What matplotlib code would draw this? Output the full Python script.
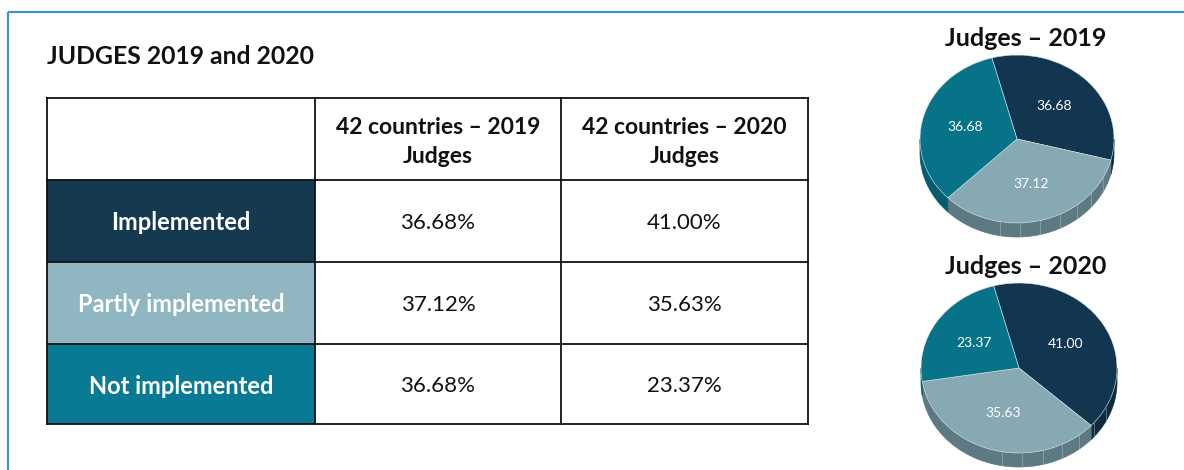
import matplotlib.pyplot as plt
import numpy as np
from matplotlib.patches import Rectangle, Polygon

# ---------------------------------------------------------------------------
# Data
# ---------------------------------------------------------------------------
title = "JUDGES 2019 and 2020"
categories = ["Implemented", "Partly implemented", "Not implemented"]
col_headers = ["42 countries \u2013 2019\nJudges", "42 countries \u2013 2020\nJudges"]
values_2019 = [36.68, 37.12, 36.68]
values_2020 = [41.00, 35.63, 23.37]
pie_titles = ["Judges \u2013 2019", "Judges \u2013 2020"]

# ---------------------------------------------------------------------------
# Style
# ---------------------------------------------------------------------------
plt.rcParams["font.family"] = ["Lato", "DejaVu Sans"]
cat_colors = ["#15394f", "#8fb6c1", "#087a93"]
pie_colors = ["#12364f", "#87a9b4", "#077389"]
side_colors = ["#0c2b3e", "#5d7982", "#055c6e"]
frame_blue = "#3d93cc"

W, H = 1184, 470
fig = plt.figure(figsize=(W / 100, H / 100), dpi=100)


def px_axes(x0, y0, x1, y1):
    return fig.add_axes([x0 / W, 1 - y1 / H, (x1 - x0) / W, (y1 - y0) / H])


# Background axes in pixel coordinates (y down)
bg = fig.add_axes([0, 0, 1, 1])
bg.set_xlim(0, W)
bg.set_ylim(H, 0)
bg.axis("off")

# Blue frame (top and left edge)
bg.plot([8, W], [12, 12], color=frame_blue, lw=1.6, solid_capstyle="butt")
bg.plot([8, 8], [12, H], color=frame_blue, lw=1.6, solid_capstyle="butt")

bg.text(47, 56, title, fontsize=17.8, fontweight="bold", color="#111",
        ha="left", va="center")

# ---------------------------------------------------------------------------
# Table
# ---------------------------------------------------------------------------
col_x = [47, 315, 561, 808]
row_y = [98, 180, 262, 344, 424]

for i, (cat, c) in enumerate(zip(categories, cat_colors)):
    y0, y1 = row_y[i + 1], row_y[i + 2]
    bg.add_patch(Rectangle((col_x[0], y0), col_x[1] - col_x[0], y1 - y0,
                           facecolor=c, edgecolor="none"))
    bg.text((col_x[0] + col_x[1]) / 2, (y0 + y1) / 2 + 2, cat, color="white",
            fontsize=17, fontweight="bold", ha="center", va="center")
    for j, vals in enumerate([values_2019, values_2020]):
        bg.text((col_x[j + 1] + col_x[j + 2]) / 2, (y0 + y1) / 2 + 2,
                f"{vals[i]:.2f}%", color="#111", fontsize=16,
                ha="center", va="center")

for j, hdr in enumerate(col_headers):
    bg.text((col_x[j + 1] + col_x[j + 2]) / 2, (row_y[0] + row_y[1]) / 2 + 3,
            hdr, color="#111", fontsize=16.5, fontweight="bold",
            ha="center", va="center", linespacing=1.42)

for y in row_y:
    bg.plot([col_x[0], col_x[-1]], [y, y], color="#111", lw=1.3)
for x in col_x:
    bg.plot([x, x], [row_y[0], row_y[-1]], color="#111", lw=1.3)

# ---------------------------------------------------------------------------
# Pseudo-3D pies
# ---------------------------------------------------------------------------
def draw_pie(vals, cx, cy, rx, ry, depth, ttl, ty):
    pad = 1.1
    ax = px_axes(cx - pad * rx, cy - pad * ry, cx + pad * rx, cy + pad * ry + depth)
    wedges, texts = ax.pie(vals, colors=pie_colors, startangle=105,
                           counterclock=False,
                           labels=[f"{v:.2f}" for v in vals],
                           labeldistance=0.55,
                           textprops=dict(color="white", fontsize=10,
                                          ha="center", va="center"),
                           wedgeprops=dict(edgecolor="#d8e2e6", linewidth=0.4,
                                           zorder=3))
    for t in texts:
        t.set_zorder(4)
    d = depth / ry
    ax.set_aspect("auto")
    ax.set_xlim(-pad, pad)
    ax.set_ylim(-pad - d, pad)

    # side walls for the front (lower) half
    for w, sc in zip(wedges, side_colors):
        t = np.radians(np.linspace(w.theta1, w.theta2, 300))
        mask = np.sin(t) <= 0
        if not mask.any():
            continue
        idx = np.where(mask)[0]
        runs = np.split(idx, np.where(np.diff(idx) > 1)[0] + 1)
        for r in runs:
            tt = t[r]
            xs, ys = np.cos(tt), np.sin(tt)
            pts = np.column_stack([np.r_[xs, xs[::-1]],
                                   np.r_[ys, ys[::-1] - d]])
            ax.add_patch(Polygon(pts, closed=True, facecolor=sc,
                                 edgecolor=sc, lw=0.5, zorder=1))
    # faint facet lines on the wall
    for a in np.radians(np.arange(-100, -20, 12)):
        ax.plot([np.cos(a)] * 2, [np.sin(a), np.sin(a) - d],
                color="#b9c9ce", lw=0.5, alpha=0.6, zorder=2)

    fig.text(1026 / W, 1 - ty / H, ttl, fontsize=18, fontweight="bold",
             color="#111", ha="center", va="center")


draw_pie(values_2019, 1017, 139, 97, 84, 14, pie_titles[0], 38)
draw_pie(values_2020, 1019, 368, 98, 85, 14, pie_titles[1], 267)

fig.savefig("out.png", dpi=100)
